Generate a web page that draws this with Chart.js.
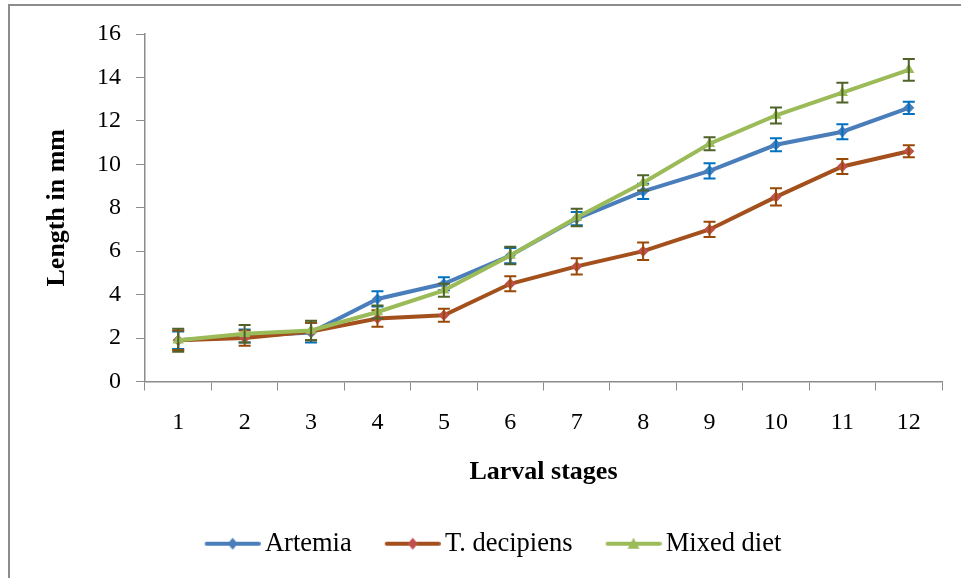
<!DOCTYPE html>
<html>
<head>
<meta charset="utf-8">
<title>Larval growth</title>
<script src="https://cdn.jsdelivr.net/npm/chart.js@4/dist/chart.umd.min.js"></script>
<style>
  html, body { margin: 0; padding: 0; background: #fff; }
  #wrap { position: relative; width: 961px; height: 578px; overflow: hidden; }
  #frame {
    position: absolute; left: 8px; top: 4px; right: -10px; bottom: -10px;
    border-left: 2px solid #8c8c8c; border-top: 2px solid #8c8c8c;
  }
  canvas { position: absolute; left: 0; top: 0; }
</style>
</head>
<body>
<div id="wrap">
  <div id="frame"></div>
  <canvas id="growthChart" width="961" height="578"></canvas>
</div>
<script>
const stages = ['1', '2', '3', '4', '5', '6', '7', '8', '9', '10', '11', '12'];

const artemia     = [1.9, 2.1, 2.25, 3.8, 4.5, 5.8, 7.5, 8.75, 9.7, 10.9, 11.5, 12.6];
const artemiaErr  = [0.4, 0.3, 0.45, 0.35, 0.3, 0.35, 0.3, 0.35, 0.35, 0.3, 0.35, 0.28];

const decipiens    = [1.9, 2.0, 2.3, 2.9, 3.05, 4.5, 5.3, 6.0, 7.0, 8.5, 9.9, 10.6];
const decipiensErr = [0.45, 0.35, 0.4, 0.38, 0.3, 0.35, 0.37, 0.4, 0.35, 0.4, 0.35, 0.28];

const mixedDiet    = [1.9, 2.2, 2.35, 3.2, 4.2, 5.8, 7.55, 9.15, 10.95, 12.25, 13.3, 14.35];
const mixedDietErr = [0.53, 0.4, 0.45, 0.3, 0.3, 0.4, 0.4, 0.35, 0.3, 0.37, 0.45, 0.5];

const yTicks = [0, 2, 4, 6, 8, 10, 12, 14, 16];

const serif = "'Times New Roman', 'Liberation Serif', serif";
const axisGrey = '#8c8c8c';

// small line+marker swatch used as the legend symbol
function legendSwatch(lineColor, markerColor, shape) {
    const c = document.createElement('canvas');
    c.width = 88;
    c.height = 16;
    const g = c.getContext('2d');
    g.strokeStyle = lineColor;
    g.lineWidth = 4;
    g.lineCap = 'round';
    g.beginPath();
    g.moveTo(34, 8);
    g.lineTo(86, 8);
    g.stroke();
    g.fillStyle = markerColor;
    g.beginPath();
    const cx = 60, cy = 8;
    if (shape === 'triangle') {
        g.moveTo(cx, cy - 6);
        g.lineTo(cx + 6, cy + 5);
        g.lineTo(cx - 6, cy + 5);
    } else {
        g.moveTo(cx, cy - 6);
        g.lineTo(cx + 5, cy);
        g.lineTo(cx, cy + 6);
        g.lineTo(cx - 5, cy);
    }
    g.closePath();
    g.fill();
    return c;
}

// vertical error bars with caps, drawn right after each series
const errorBars = {
    id: 'errorBars',
    afterDatasetDraw(chart, args) {
        const ds = chart.data.datasets[args.index];
        if (!ds.errors) return;
        const yScale = chart.scales.y;
        const ctx = chart.ctx;
        ctx.save();
        ctx.strokeStyle = ds.errorColor;
        ctx.lineWidth = 2;
        args.meta.data.forEach((pt, i) => {
            const v = ds.data[i];
            const e = ds.errors[i];
            const top = yScale.getPixelForValue(v + e);
            const bot = yScale.getPixelForValue(v - e);
            ctx.beginPath();
            ctx.moveTo(pt.x, top);
            ctx.lineTo(pt.x, bot);
            ctx.moveTo(pt.x - 6, top);
            ctx.lineTo(pt.x + 6, top);
            ctx.moveTo(pt.x - 6, bot);
            ctx.lineTo(pt.x + 6, bot);
            ctx.stroke();
        });
        ctx.restore();
    }
};

const datasets = [
    {
        label: 'Artemia',
        data: artemia,
        errors: artemiaErr,
        errorColor: '#0070C0',
        borderColor: '#4A7EBB',
        backgroundColor: '#4A7EBB',
        pointStyle: 'rectRot',
        pointRadius: 5.5,
        swatch: legendSwatch('#4A7EBB', '#4A7EBB', 'diamond'),
        order: 3
    },
    {
        label: 'T. decipiens',
        data: decipiens,
        errors: decipiensErr,
        errorColor: '#984807',
        borderColor: '#A3501C',
        backgroundColor: '#C0504D',
        pointStyle: 'rectRot',
        pointRadius: 5.5,
        swatch: legendSwatch('#A3501C', '#C0504D', 'diamond'),
        order: 2
    },
    {
        label: 'Mixed diet',
        data: mixedDiet,
        errors: mixedDietErr,
        errorColor: '#4F6228',
        borderColor: '#9BBB59',
        backgroundColor: '#9BBB59',
        pointStyle: 'triangle',
        pointRadius: 6.5,
        swatch: legendSwatch('#9BBB59', '#9BBB59', 'triangle'),
        order: 1
    }
].map(d => Object.assign({
    borderWidth: 4,
    pointBorderWidth: 0,
    tension: 0,
    fill: false
}, d));

new Chart(document.getElementById('growthChart'), {
    type: 'line',
    data: { labels: stages, datasets: datasets },
    plugins: [errorBars],
    options: {
        responsive: false,
        animation: false,
        devicePixelRatio: 1,
        layout: { padding: { left: 21, right: 19, top: 34, bottom: 11 } },
        plugins: {
            tooltip: { enabled: false },
            legend: {
                position: 'bottom',
                labels: {
                    usePointStyle: true,
                    pointStyleWidth: 70,
                    padding: 10,
                    color: '#000',
                    font: { family: serif, size: 26.5 },
                    generateLabels: chart => chart.data.datasets.map((d, i) => ({
                        text: d.label,
                        pointStyle: d.swatch,
                        fillStyle: d.borderColor,
                        strokeStyle: d.borderColor,
                        lineWidth: 0,
                        fontColor: '#000',
                        datasetIndex: i,
                        hidden: false
                    }))
                }
            }
        },
        scales: {
            x: {
                offset: true,
                grid: {
                    offset: true,
                    drawOnChartArea: false,
                    tickLength: 9,
                    color: axisGrey
                },
                border: { color: axisGrey, width: 1.5 },
                ticks: {
                    color: '#000',
                    padding: 18,
                    font: { family: serif, size: 24 },
                    maxRotation: 0
                },
                title: {
                    display: true,
                    text: 'Larval stages',
                    color: '#000',
                    font: { family: serif, size: 26, weight: 'bold' },
                    padding: { top: 0, bottom: 33 }
                },
                afterFit: s => { s.height = 139; }
            },
            y: {
                min: 0,
                max: 16,
                afterBuildTicks: s => { s.ticks = yTicks.map(v => ({ value: v })); },
                grid: {
                    drawOnChartArea: false,
                    tickLength: 9,
                    color: axisGrey
                },
                border: { color: axisGrey, width: 1.5 },
                ticks: {
                    color: '#000',
                    padding: 15,
                    font: { family: serif, size: 24 }
                },
                title: {
                    display: true,
                    text: 'Length in mm',
                    color: '#000',
                    font: { family: serif, size: 26, weight: 'bold' },
                    padding: { top: 21, bottom: 0 }
                },
                afterFit: s => { s.width = 124; }
            }
        }
    }
});
</script>
</body>
</html>
